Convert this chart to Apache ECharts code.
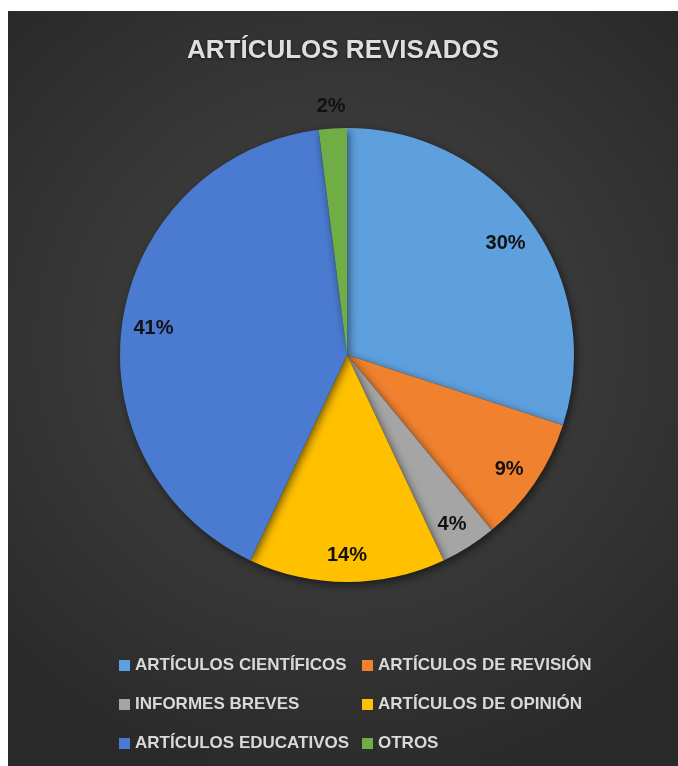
<!DOCTYPE html>
<html>
<head>
<meta charset="utf-8">
<script src="https://cdn.jsdelivr.net/npm/echarts@6/dist/echarts.min.js"></script>
<style>
html,body{margin:0;padding:0;background:#fff;width:678px;height:766px;overflow:hidden;}
#chart{position:absolute;left:8px;top:11px;width:670px;height:755px;
background:radial-gradient(ellipse 70% 60% at 50% 44%, #484848 0%, #3a3a3a 45%, #2a2a2a 100%);}
</style>
</head>
<body>
<div id="chart"></div>
<script>
const titleText = 'ARTÍCULOS REVISADOS';
const categories = ['ARTÍCULOS CIENTÍFICOS','ARTÍCULOS DE REVISIÓN','INFORMES BREVES','ARTÍCULOS DE OPINIÓN','ARTÍCULOS EDUCATIVOS','OTROS'];
const values = [30, 9, 4, 14, 41, 2];
const colors = ['#5e9fdd','#f0812f','#a5a5a5','#ffc000','#4a7bd0','#70ad47'];
const leftLegend = ['ARTÍCULOS CIENTÍFICOS','INFORMES BREVES','ARTÍCULOS EDUCATIVOS'];
const rightLegend = ['ARTÍCULOS DE REVISIÓN','ARTÍCULOS DE OPINIÓN','OTROS'];
const outsideLabelCats = ['OTROS'];

const chart = echarts.init(document.getElementById('chart'), null, {renderer:'canvas'});
const center = [339, 344];
const R = 227;
const labelFont = {color:'#111', fontWeight:'bold', fontSize:20, fontFamily:'Liberation Sans, Arial, sans-serif', offset:[0,4]};

const baseData = categories.map((c,i)=>({name:c, value:values[i], itemStyle:{color:colors[i]}}));
const ringData = categories.map((c,i)=>({name:c, value:values[i],
  label:{show: outsideLabelCats.indexOf(c) < 0}}));
const outerData = categories.map((c,i)=>({name:c, value:values[i],
  label:{show: outsideLabelCats.indexOf(c) >= 0}}));

const legendCommon = {
  orient:'vertical', itemWidth:11, itemHeight:11, itemGap:22, icon:'rect',
  textStyle:{color:'#d9d9d9', fontWeight:'bold', fontSize:17, fontFamily:'Liberation Sans, Arial, sans-serif'},
  selectedMode:false
};

chart.setOption({
  backgroundColor:'transparent',
  animation:false,
  title:{text:titleText, left:'center', top:22,
    textStyle:{color:'#dedede', fontSize:26, fontWeight:'bold', fontFamily:'Liberation Sans, Arial, sans-serif',
      textShadowColor:'rgba(0,0,0,0.6)', textShadowBlur:3, textShadowOffsetY:1}},
  legend:[
    Object.assign({}, legendCommon, {data:leftLegend, left:106, top:641}),
    Object.assign({}, legendCommon, {data:rightLegend, left:349, top:641})
  ],
  series:[
    {type:'pie', center:center, radius:[0,R], startAngle:90, clockwise:true, silent:true,
     label:{show:false}, labelLine:{show:false},
     itemStyle:{shadowBlur:8, shadowColor:'rgba(0,0,0,0.55)', shadowOffsetX:2, shadowOffsetY:3},
     data:baseData},
    {type:'pie', center:center, radius:[159,R], startAngle:90, clockwise:true, silent:true,
     itemStyle:{color:'rgba(0,0,0,0)'},
     label:Object.assign({position:'inside', formatter:'{c}%'}, labelFont),
     labelLine:{show:false}, data:ringData},
    {type:'pie', center:center, radius:[229,271], startAngle:90, clockwise:true, silent:true,
     itemStyle:{color:'rgba(0,0,0,0)'},
     label:Object.assign({position:'inside', formatter:'{c}%'}, labelFont),
     labelLine:{show:false}, data:outerData}
  ]
});
</script>
</body>
</html>
